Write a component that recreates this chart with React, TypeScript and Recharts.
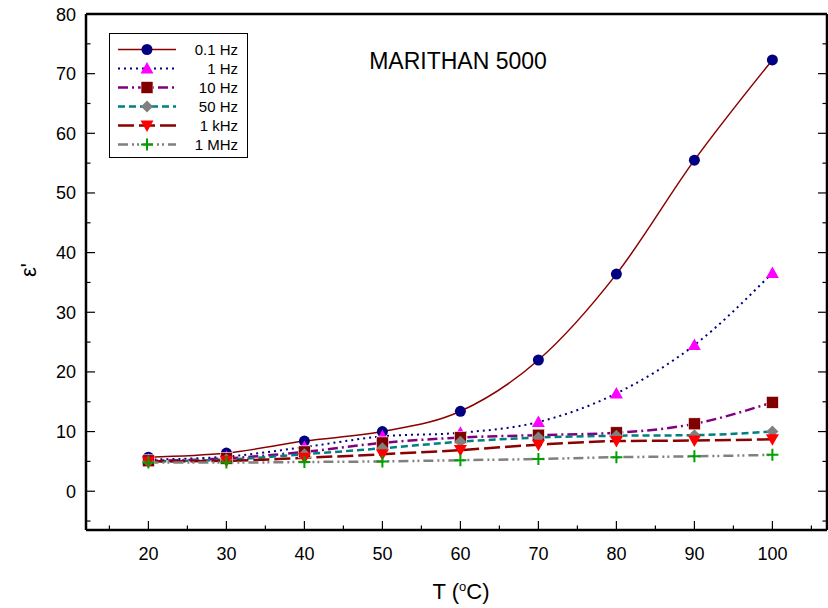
import React from "react";
import { LineChart, Line, XAxis, YAxis } from "recharts";

// temperature (°C)
const temps = [20, 30, 40, 50, 60, 70, 80, 90, 100];

// ε' per frequency
const hz01 = [5.7, 6.4, 8.4, 10.0, 13.4, 22.0, 36.4, 55.5, 72.3];
const hz1 = [5.3, 5.8, 7.4, 9.2, 9.8, 11.6, 16.4, 24.5, 36.6];
const hz10 = [5.1, 5.5, 6.6, 8.1, 9.0, 9.4, 9.8, 11.3, 14.9];
const hz50 = [5.0, 5.3, 6.2, 7.2, 8.3, 9.0, 9.3, 9.4, 10.0];
const khz1 = [5.0, 5.1, 5.6, 6.2, 6.9, 7.8, 8.4, 8.5, 8.7];
const mhz1 = [4.8, 4.8, 4.9, 5.0, 5.2, 5.4, 5.7, 5.85, 6.1];

const xTicks = [15, 20, 25, 30, 35, 40, 45, 50, 55, 60, 65, 70, 75, 80, 85, 90, 95, 100, 105];
const yTicks = [-5, 0, 5, 10, 15, 20, 25, 30, 35, 40, 45, 50, 55, 60, 65, 70, 75, 80];

const data = temps.map((t, i) => ({
  t,
  hz01: hz01[i],
  hz1: hz1[i],
  hz10: hz10[i],
  hz50: hz50[i],
  khz1: khz1[i],
  mhz1: mhz1[i],
}));

type Shape = "circle" | "triUp" | "square" | "diamond" | "triDown" | "plus";

const series: {
  key: string;
  name: string;
  line: string;
  width: number;
  dash?: string;
  shape: Shape;
  fill: string;
}[] = [
  { key: "hz01", name: "0.1 Hz", line: "#8b0000", width: 1.5, shape: "circle", fill: "#000080" },
  { key: "hz1", name: "1 Hz", line: "#000080", width: 2, dash: "2 4", shape: "triUp", fill: "#ff00ff" },
  { key: "hz10", name: "10 Hz", line: "#800080", width: 2.5, dash: "10 4 2 4", shape: "square", fill: "#800000" },
  { key: "hz50", name: "50 Hz", line: "#008080", width: 2.5, dash: "7 4", shape: "diamond", fill: "#808080" },
  { key: "khz1", name: "1 kHz", line: "#8b0000", width: 2.5, dash: "16 5", shape: "triDown", fill: "#ff0000" },
  { key: "mhz1", name: "1 MHz", line: "#808080", width: 2.5, dash: "10 4 2 3 2 4", shape: "plus", fill: "#00a000" },
];

const FONT = "'Liberation Sans', Arial, sans-serif";

function Marker({ cx, cy, shape, fill }: { cx: number; cy: number; shape: Shape; fill: string }) {
  if (cx == null || cy == null) return null;
  switch (shape) {
    case "circle":
      return <circle cx={cx} cy={cy} r={5.5} fill={fill} />;
    case "triUp":
      return <path d={`M${cx},${cy - 6.5} L${cx + 6.5},${cy + 5} L${cx - 6.5},${cy + 5} Z`} fill={fill} />;
    case "square":
      return <rect x={cx - 6} y={cy - 6} width={12} height={12} fill={fill} stroke="#fff" strokeWidth={0.6} />;
    case "diamond":
      return <path d={`M${cx},${cy - 6} L${cx + 6},${cy} L${cx},${cy + 6} L${cx - 6},${cy} Z`} fill={fill} />;
    case "triDown":
      return <path d={`M${cx - 6.5},${cy - 5} L${cx + 6.5},${cy - 5} L${cx},${cy + 6.5} Z`} fill={fill} />;
    case "plus":
      return <path d={`M${cx - 6},${cy} H${cx + 6} M${cx},${cy - 6} V${cy + 6}`} stroke={fill} strokeWidth={2} fill="none" />;
  }
  return null;
}

// ticks point inward, labels only on the major ones
function AxisTick(props: any) {
  const { x, y, payload, side } = props;
  const v = payload.value as number;
  const major = v % 10 === 0;
  const len = major ? 9 : 4.5;
  const label = major && (side === "bottom" || side === "left");
  if (side === "bottom" || side === "top") {
    const dir = side === "bottom" ? -1 : 1;
    return (
      <g>
        <line x1={x} y1={y} x2={x} y2={y + dir * len} stroke="#000" strokeWidth={1.2} />
        {label && (
          <text x={x} y={y + 30} textAnchor="middle" fontSize={18} fontFamily={FONT} fill="#000">
            {v}
          </text>
        )}
      </g>
    );
  }
  const dir = side === "left" ? 1 : -1;
  return (
    <g>
      <line x1={x} y1={y} x2={x + dir * len} y2={y} stroke="#000" strokeWidth={1.2} />
      {label && (
        <text x={x - 10} y={y + 6.5} textAnchor="end" fontSize={18} fontFamily={FONT} fill="#000">
          {v}
        </text>
      )}
    </g>
  );
}

function LegendBox() {
  return (
    <div
      style={{
        position: "absolute",
        left: 109,
        top: 33,
        border: "1px solid #000",
        background: "#fff",
        width: 139,
        height: 125,
        boxSizing: "border-box",
        paddingTop: 6,
      }}
    >
      {series.map((s) => (
        <div key={s.key} style={{ display: "flex", alignItems: "center", height: 19 }}>
          <svg width={70} height={19}>
            <line x1={8} y1={9.5} x2={66} y2={9.5} stroke={s.line} strokeWidth={s.width} strokeDasharray={s.dash} />
            <Marker cx={37} cy={9.5} shape={s.shape} fill={s.fill} />
          </svg>
          <span style={{ fontFamily: FONT, fontSize: 15, color: "#000", width: 58, textAlign: "right" }}>{s.name}</span>
        </div>
      ))}
    </div>
  );
}

export default function App() {
  return (
    <div style={{ position: "absolute", left: 0, top: 0, width: 828, height: 608, background: "#fff" }}>
      <LineChart width={828} height={608} data={data} margin={{ top: 0, right: 0, bottom: 0, left: 0 }}>
        <XAxis
          dataKey="t"
          type="number"
          domain={[12, 107]}
          allowDataOverflow
          ticks={xTicks}
          interval={0}
          height={78}
          tickSize={0}
          tickMargin={0}
          axisLine={{ stroke: "#000", strokeWidth: 2.5 }}
          tickLine={false}
          tick={(p: any) => <AxisTick {...p} side="bottom" />}
        />
        <XAxis
          xAxisId="top"
          orientation="top"
          type="number"
          domain={[12, 107]}
          allowDataOverflow
          ticks={xTicks}
          interval={0}
          height={14}
          tickSize={0}
          tickMargin={0}
          axisLine={{ stroke: "#000", strokeWidth: 2.5 }}
          tickLine={false}
          tick={(p: any) => <AxisTick {...p} side="top" />}
        />
        <YAxis
          type="number"
          domain={[-6.5, 80]}
          allowDataOverflow
          ticks={yTicks}
          interval={0}
          width={86}
          tickSize={0}
          tickMargin={0}
          axisLine={{ stroke: "#000", strokeWidth: 2.5 }}
          tickLine={false}
          tick={(p: any) => <AxisTick {...p} side="left" />}
        />
        <YAxis
          yAxisId="right"
          orientation="right"
          type="number"
          domain={[-6.5, 80]}
          allowDataOverflow
          ticks={yTicks}
          interval={0}
          width={1}
          tickSize={0}
          tickMargin={0}
          axisLine={{ stroke: "#000", strokeWidth: 2.5 }}
          tickLine={false}
          tick={(p: any) => <AxisTick {...p} side="right" />}
        />
        {series.map((s) => (
          <Line
            key={s.key}
            dataKey={s.key}
            name={s.name}
            type="monotone"
            stroke={s.line}
            strokeWidth={s.width}
            strokeDasharray={s.dash}
            dot={(p: any) => <Marker key={`${s.key}-${p.index}`} cx={p.cx} cy={p.cy} shape={s.shape} fill={s.fill} />}
            activeDot={false}
            isAnimationActive={false}
          />
        ))}
        <text x={458} y={69} textAnchor="middle" fontSize={23} fontFamily={FONT} fill="#000">
          MARITHAN 5000
        </text>
        <text x={461} y={599} textAnchor="middle" fontSize={22} fontFamily={FONT} fill="#000">
          T (<tspan fontSize={13} dy={-8}>o</tspan>
          <tspan dy={8}>C)</tspan>
        </text>
        <text
          x={36}
          y={270}
          textAnchor="middle"
          fontSize={22}
          fontFamily={FONT}
          fill="#000"
          transform="rotate(-90 36 270)"
        >
          {"\u03b5'"}
        </text>
      </LineChart>
      <LegendBox />
    </div>
  );
}
